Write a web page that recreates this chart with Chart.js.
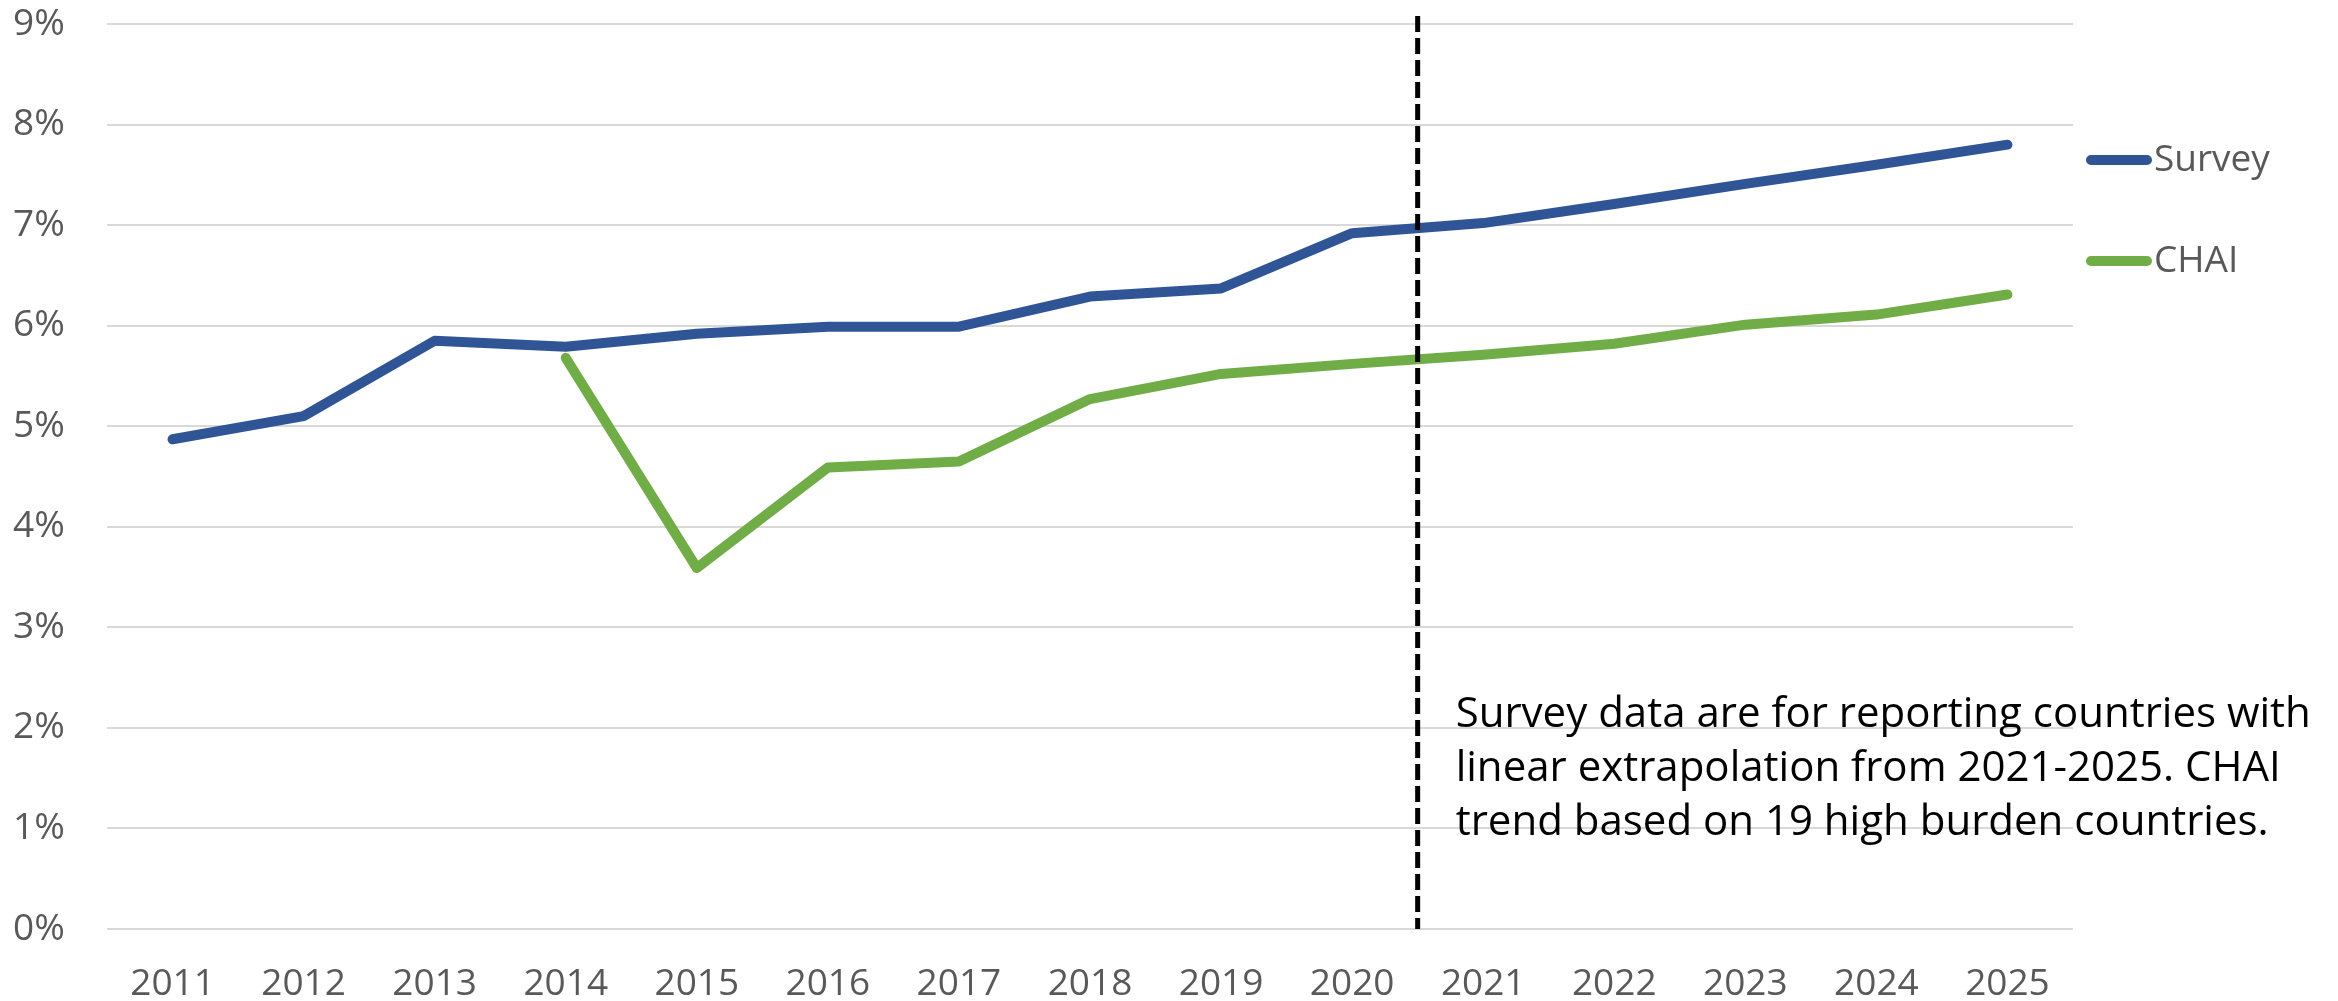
<!DOCTYPE html>
<html>
<head>
<meta charset="utf-8">
<script src="https://cdn.jsdelivr.net/npm/chart.js@4"></script>
<style>
  html, body { margin: 0; padding: 0; background: #fff; }
  canvas { display: block; }
</style>
</head>
<body>
<canvas id="trendChart" width="2338" height="1001"></canvas>
<script>
// chart data
const years = ['2011', '2012', '2013', '2014', '2015', '2016', '2017', '2018',
               '2019', '2020', '2021', '2022', '2023', '2024', '2025'];
const surveyValues = [4.87, 5.10, 5.85, 5.79, 5.92, 5.99, 5.99, 6.29,
                      6.37, 6.92, 7.02, 7.21, 7.41, 7.60, 7.80];
const chaiValues = [null, null, null, 5.68, 3.59, 4.59, 4.65, 5.27,
                    5.52, 5.62, 5.71, 5.82, 6.01, 6.11, 6.31];
const yTickLabels = ['0%', '1%', '2%', '3%', '4%', '5%', '6%', '7%', '8%', '9%'];
const splitYear = 9.5; // between 2020 and 2021
const noteLines = [
    'Survey data are for reporting countries with',
    'linear extrapolation from 2021-2025. CHAI',
    'trend based on 19 high burden countries.'
];

const tickFont = { family: 'Open Sans', size: 37 };

// dashed divider + note text
const dividerPlugin = {
    id: 'divider',
    afterDatasetsDraw(chart) {
        const { ctx, chartArea, scales } = chart;
        const x = scales.x.getPixelForValue(splitYear);
        ctx.save();
        ctx.strokeStyle = '#000';
        ctx.lineWidth = 5;
        ctx.setLineDash([16, 6]);
        ctx.beginPath();
        ctx.moveTo(x, 16);
        ctx.lineTo(x, chartArea.bottom);
        ctx.stroke();
        ctx.restore();

        ctx.save();
        ctx.fillStyle = '#000';
        ctx.font = '42px "Open Sans"';
        ctx.textBaseline = 'alphabetic';
        noteLines.forEach((line, i) => {
            ctx.fillText(line, x + 38, 727 + i * 54);
        });
        ctx.restore();
    }
};

// legend on the right: short line + label
const sideLegend = {
    id: 'sideLegend',
    afterDraw(chart) {
        const { ctx, chartArea } = chart;
        ctx.save();
        ctx.font = '37px "Open Sans"';
        ctx.textBaseline = 'middle';
        chart.data.datasets.forEach((ds, i) => {
            const y = 160 + i * 101;
            const x0 = chartArea.right + 18;
            ctx.strokeStyle = ds.borderColor;
            ctx.lineWidth = 10;
            ctx.lineCap = 'round';
            ctx.beginPath();
            ctx.moveTo(x0, y);
            ctx.lineTo(x0 + 56, y);
            ctx.stroke();
            ctx.fillStyle = '#595959';
            ctx.fillText(ds.label, x0 + 63, y);
        });
        ctx.restore();
    }
};

new Chart(document.getElementById('trendChart'), {
    type: 'line',
    data: {
        labels: years,
        datasets: [
            {
                label: 'Survey',
                data: surveyValues,
                borderColor: '#2F5597',
                borderWidth: 10,
                borderCapStyle: 'round',
                borderJoinStyle: 'round',
                pointRadius: 0,
                tension: 0
            },
            {
                label: 'CHAI',
                data: chaiValues,
                borderColor: '#70AD47',
                borderWidth: 10,
                borderCapStyle: 'round',
                borderJoinStyle: 'round',
                pointRadius: 0,
                tension: 0
            }
        ]
    },
    options: {
        responsive: false,
        devicePixelRatio: 1,
        animation: false,
        layout: { padding: { top: 24, right: 265, left: 13, bottom: 0 } },
        plugins: {
            legend: { display: false },
            tooltip: { enabled: false }
        },
        scales: {
            x: {
                offset: true,
                grid: { display: false, drawTicks: false },
                border: { display: false },
                ticks: {
                    color: '#595959',
                    font: tickFont,
                    padding: 33,
                    maxRotation: 0,
                    autoSkip: false
                },
                afterFit(scale) { scale.height = 72; }
            },
            y: {
                min: 0,
                max: 9,
                grid: { color: '#d9d9d9', lineWidth: 2, drawTicks: false },
                border: { display: false },
                ticks: {
                    stepSize: 1,
                    color: '#595959',
                    font: tickFont,
                    padding: 0,
                    crossAlign: 'far',
                    callback: (v) => yTickLabels[v]
                },
                afterFit(scale) { scale.width = 94; }
            }
        }
    },
    plugins: [dividerPlugin, sideLegend]
});
</script>
</body>
</html>
